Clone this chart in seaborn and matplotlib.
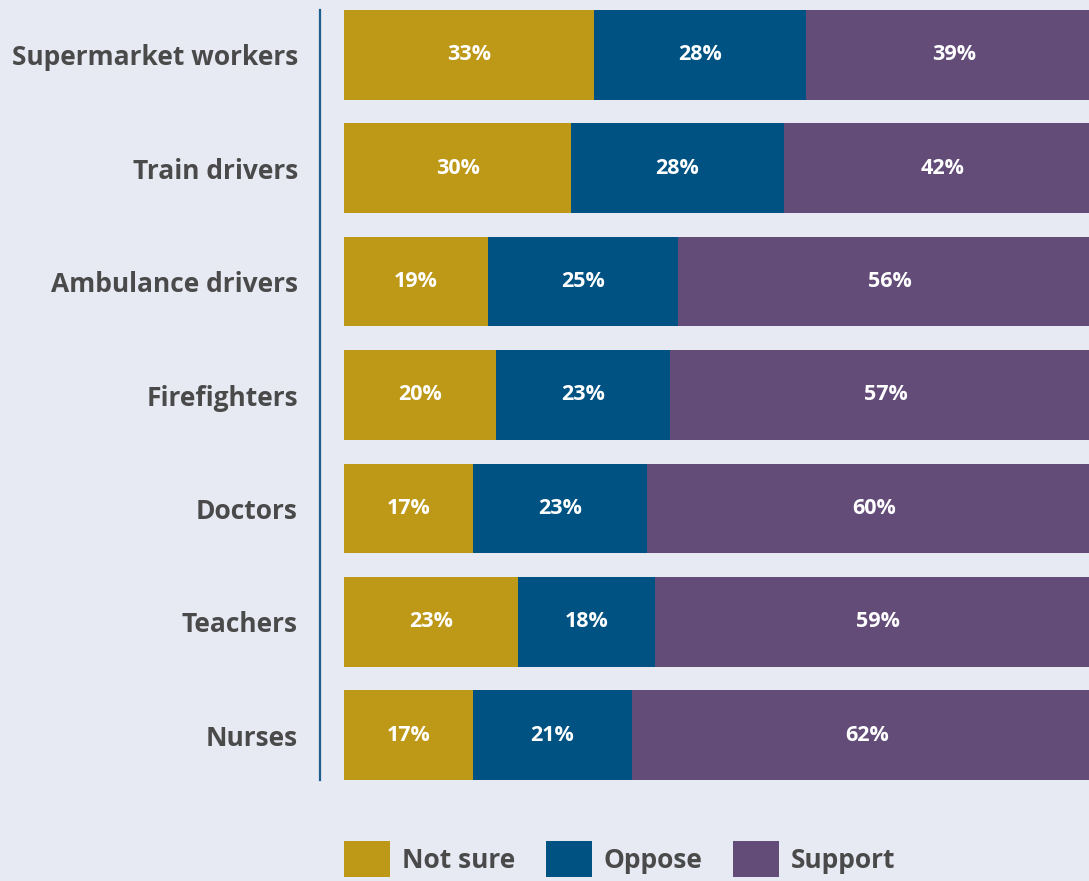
import pandas as pd
import matplotlib.pyplot as plt
from matplotlib.patches import Patch
import seaborn as sns

# Data
groups = ["Supermarket workers", "Train drivers", "Ambulance drivers",
          "Firefighters", "Doctors", "Teachers", "Nurses"]
not_sure = [33, 30, 19, 20, 17, 23, 17]
oppose = [28, 28, 25, 23, 23, 18, 21]
support = [39, 42, 56, 57, 60, 59, 62]
series_names = ["Not sure", "Oppose", "Support"]
colors = ["#bd9917", "#005282", "#634c78"]

df = pd.DataFrame({"group": groups, "Not sure": not_sure,
                   "Oppose": oppose, "Support": support})
df["cum1"] = df["Not sure"]
df["cum2"] = df["Not sure"] + df["Oppose"]
df["cum3"] = df["cum2"] + df["Support"]

bg = "#e7eaf3"
text_col = "#4a4a4a"
font = "Open Sans"

sns.set_theme(style="white")
plt.rcParams["font.family"] = [font, "DejaVu Sans"]

fig = plt.figure(figsize=(10.89, 8.81), dpi=100, facecolor=bg)
# plot area runs a little past the right edge of the figure
ax = fig.add_axes([344 / 1089, 1 - 780 / 881, 758 / 1089, 770 / 881])
ax.set_facecolor(bg)

bar_h = 0.79
# stacked bars drawn back to front
for col, c in zip(["cum3", "cum2", "cum1"], colors[::-1]):
    sns.barplot(data=df, x=col, y="group", orient="h", color=c,
                width=bar_h, saturation=1, linewidth=0, ax=ax)

# percentage labels in the middle of each segment
for i, row in df.iterrows():
    left = 0
    for name in series_names:
        val = row[name]
        ax.text(left + val / 2, i, f"{val}%", ha="center", va="center",
                color="white", fontsize=15.5, fontweight="bold")
        left += val

ax.set_xlim(0, 100)
ax.set_ylim(len(groups) - 1 + bar_h / 2, -bar_h / 2)
ax.set_xlabel("")
ax.set_ylabel("")
ax.set_xticks([])

for s in ["top", "right", "bottom"]:
    ax.spines[s].set_visible(False)
ax.spines["left"].set_position(("outward", 24 * 0.72))
ax.spines["left"].set_color("#1f5d8c")
ax.spines["left"].set_linewidth(1.6)

# spine positioning resets the ticks, so style the labels afterwards
ax.tick_params(axis="y", length=0, pad=16)
ax.set_yticks(range(len(groups)))
ax.set_yticklabels(groups, fontweight="bold", fontsize=19, color=text_col)

handles = [Patch(facecolor=c, edgecolor="none") for c in colors]
leg = fig.legend(handles, series_names, loc="upper left",
                 bbox_to_anchor=(344 / 1089, 1 - 841 / 881),
                 ncol=3, frameon=False, borderpad=0, borderaxespad=0,
                 handlelength=1.75, handleheight=1.75, handletextpad=0.45,
                 columnspacing=1.15, fontsize=19)
for t in leg.get_texts():
    t.set_color(text_col)
    t.set_fontweight("bold")

fig.savefig("out.png", dpi=100, facecolor=bg)
